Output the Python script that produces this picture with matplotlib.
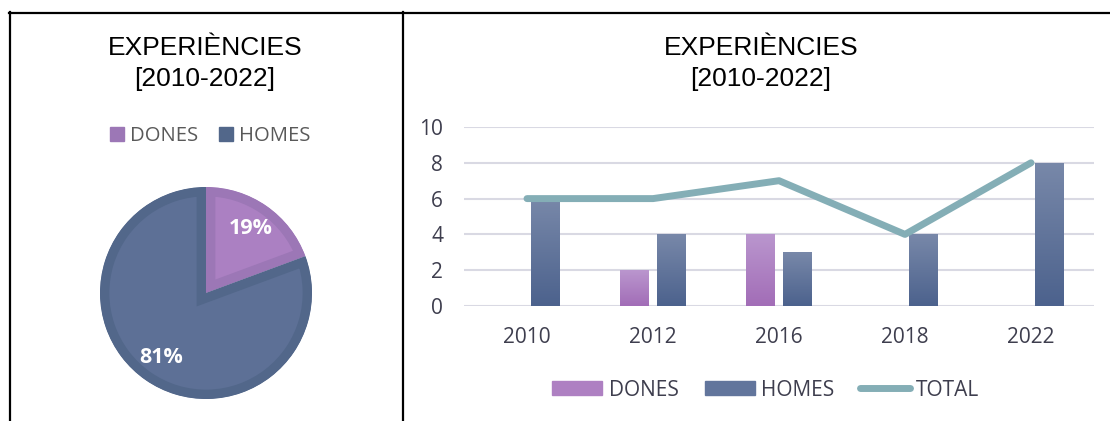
import matplotlib.pyplot as plt
import numpy as np
from matplotlib.colors import LinearSegmentedColormap
from matplotlib.lines import Line2D
from matplotlib.patches import Patch

# dades
anys = ["2010", "2012", "2016", "2018", "2022"]
dones = [0, 2, 4, 0, 0]
homes = [6, 4, 3, 4, 8]
total = [6, 6, 7, 4, 8]
pie_labels = ["DONES", "HOMES"]

W, H = 1110, 421
fig = plt.figure(figsize=(W / 100, H / 100), dpi=100)

txt_col = "#3E3E4E"
tick_font = "Open Sans"
title_font = "Liberation Sans"

# colors
purple_face, purple_band = "#AB80C2", "#9C77B6"
blue_face, blue_band = "#5D7096", "#52678A"
done_top, done_bot = "#BA96CE", "#A26DB7"
home_top, home_bot = "#7888A9", "#4C628D"
line_col = "#84AEB6"
grid_col = "#D9D9E3"

# marcs
for xs, ys in [([9, W], [12.5, 12.5]), ([9.5, 9.5], [12, H]), ([403, 403], [12, H])]:
    fig.add_artist(Line2D([x / W for x in xs], [1 - y / H for y in ys],
                          color="black", linewidth=1.6))

# titols
for cx in (205, 761):
    fig.text(cx / W, 1 - 48 / H, "EXPERIÈNCIES", ha="center", va="center",
             fontsize=19, family=title_font, color="black")
    fig.text(cx / W, 1 - 79 / H, "[2010-2022]", ha="center", va="center",
             fontsize=19, family=title_font, color="black")

# ---- pastis ----
R = 106
cx, cy = 206, 293
ax_p = fig.add_axes([(cx - R) / W, (H - cy - R) / H, 2 * R / W, 2 * R / H])
vals = [sum(dones), sum(homes)]
wedges, _, autotexts = ax_p.pie(
    vals, startangle=90, counterclock=False, radius=1,
    colors=[purple_face, blue_face], autopct="%1.0f%%", pctdistance=0.74,
    textprops=dict(color="white", fontsize=15.5, fontweight="bold", family=tick_font))
for w, band in zip(wedges, [purple_band, blue_band]):
    w.set_edgecolor(band)
    w.set_linewidth(13.5)
    w.set_clip_on(True)
    w.set_clip_path(w)
ax_p.set_xlim(-1, 1)
ax_p.set_ylim(-1, 1)
ax_p.axis("off")

fig.legend([Patch(color=purple_band), Patch(color=blue_band)], pie_labels,
           loc="center", bbox_to_anchor=(210 / W, 1 - 136 / H), ncol=2,
           frameon=False, handlelength=0.7, handleheight=0.7, handletextpad=0.3,
           columnspacing=1.0, prop=dict(family=tick_font, size=14.6),
           labelcolor="#595959")

# ---- barres ----
ax = fig.add_axes([464 / W, 115 / H, 630 / W, 179 / H])
x = np.arange(len(anys))
bw = 0.23
b1 = ax.bar(x - 0.143, dones, bw, color="none")
b2 = ax.bar(x + 0.143, homes, bw, color="none")

grad = np.linspace(0, 1, 100).reshape(-1, 1)
for bars, top, bot in [(b1, done_top, done_bot), (b2, home_top, home_bot)]:
    cmap = LinearSegmentedColormap.from_list("g", [bot, top])
    for p in bars:
        if p.get_height() <= 0:
            continue
        x0, y0 = p.get_x(), p.get_y()
        im = ax.imshow(grad, cmap=cmap, origin="lower", aspect="auto",
                       extent=(x0, x0 + p.get_width(), y0, y0 + p.get_height()),
                       zorder=2)
        im.set_clip_path(p)

ax.plot(x, total, color=line_col, linewidth=5, solid_capstyle="round",
        solid_joinstyle="round", zorder=3)

ax.set_xlim(-0.5, len(anys) - 0.5)
ax.set_ylim(0, 10)
ax.set_yticks(range(0, 11, 2))
ax.set_xticks(x, anys)
ax.yaxis.grid(True, color=grid_col, linewidth=1.5)
ax.set_axisbelow(True)
for s in ax.spines.values():
    s.set_visible(False)
ax.tick_params(axis="both", length=0, labelsize=15, labelcolor=txt_col)
ax.tick_params(axis="y", pad=15)
ax.tick_params(axis="x", pad=15)
for lab in ax.get_xticklabels() + ax.get_yticklabels():
    lab.set_family(tick_font)

handles = [Patch(color="#AE80C2"), Patch(color="#62759C"),
           Line2D([], [], color=line_col, linewidth=5, solid_capstyle="round")]
fig.legend(handles, ["DONES", "HOMES", "TOTAL"], loc="center",
           bbox_to_anchor=(766 / W, 1 - 390 / H), ncol=3, frameon=False,
           handlelength=2.4, handleheight=0.65, handletextpad=0.3,
           columnspacing=1.25, prop=dict(family=tick_font, size=15),
           labelcolor=txt_col)

fig.savefig("out.png", dpi=100)
